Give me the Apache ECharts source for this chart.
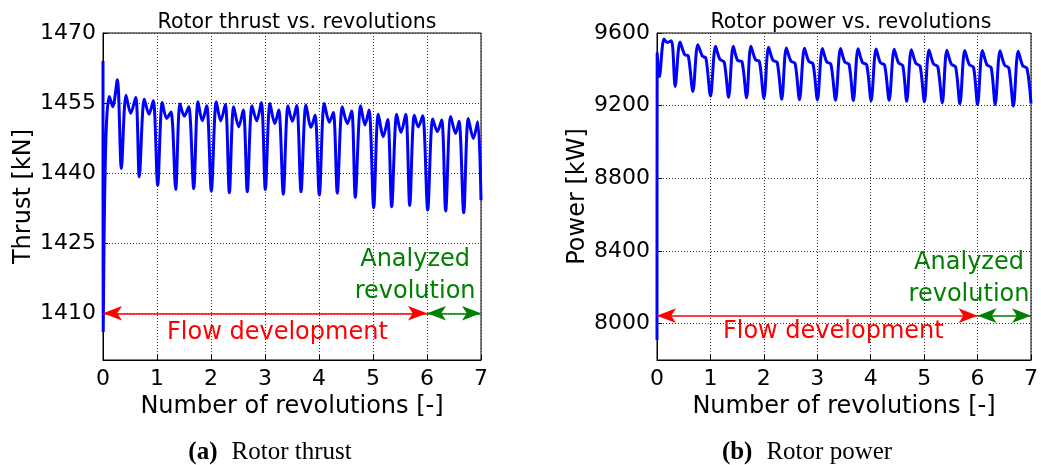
<!DOCTYPE html>
<html><head><meta charset="utf-8">
<script src="https://cdn.jsdelivr.net/npm/echarts@6/dist/echarts.min.js"></script>
<style>html,body{margin:0;padding:0;background:#fff}#c{width:1041px;height:465px}</style>
</head><body><div id="c"></div>
<script>
// ---- data ----
const thrustTicks = [1410, 1425, 1440, 1455, 1470];
const powerTicks = [8000, 8400, 8800, 9200, 9600];
const chartTitles = ['Rotor thrust vs. revolutions', 'Rotor power vs. revolutions'];
const yNames = ['Thrust [kN]', 'Power [kW]'];
const xName = 'Number of revolutions [-]';
const captions = [['(a)', 'Rotor thrust'], ['(b)', 'Rotor power']];
const flowText = 'Flow development';
const analyzedText = 'Analyzed\nrevolution';
const flowRange = [0, 6];
const analyzedRange = [6, 7];

const thrust = [
  [0, 1464], [0.004, 1406], [0.02, 1426], [0.04, 1441], [0.07, 1452],
  [0.117, 1456.4], [0.18, 1454.2], [0.265, 1460.0],
  [0.34, 1441.0],
  [0.426, 1456.7], [0.513, 1452.8], [0.606, 1456.2],
  [0.672, 1439.2],
  [0.765, 1455.8], [0.852, 1452.6], [0.931, 1455.5],
  [1.013, 1437.4],
  [1.098, 1455.1], [1.179, 1451.7], [1.259, 1453.1],
  [1.346, 1436.5],
  [1.426, 1454.8], [1.506, 1452.2], [1.587, 1454.2],
  [1.68, 1436.7],
  [1.759, 1455.3], [1.839, 1451.2], [1.92, 1454.4],
  [2.006, 1436.2],
  [2.099, 1455.3], [2.18, 1451.2], [2.265, 1454.7],
  [2.34, 1435.8],
  [2.42, 1454.2], [2.513, 1449.9], [2.598, 1453.5],
  [2.672, 1436.0],
  [2.759, 1454.4], [2.846, 1451.2], [2.932, 1455.1],
  [3.006, 1436.5],
  [3.093, 1454.9], [3.18, 1450.6], [3.254, 1453.5],
  [3.339, 1435.5],
  [3.426, 1454.4], [3.506, 1451.1], [3.587, 1454.5],
  [3.667, 1436.0],
  [3.759, 1454.6], [3.852, 1449.8], [3.926, 1452.4],
  [4.006, 1435.3],
  [4.098, 1454.9], [4.191, 1450.9], [4.265, 1453.0],
  [4.339, 1435.7],
  [4.432, 1454.2], [4.524, 1450.6], [4.605, 1453.3],
  [4.672, 1434.8],
  [4.772, 1454.4], [4.852, 1450.3], [4.926, 1453.5],
  [5.013, 1432.6],
  [5.098, 1452.6], [5.191, 1447.8], [5.272, 1451.5],
  [5.346, 1432.8],
  [5.439, 1452.6], [5.519, 1448.7], [5.606, 1452.6],
  [5.68, 1433.1],
  [5.765, 1452.4], [5.839, 1449.9], [5.92, 1452.3],
  [6.013, 1432.1],
  [6.106, 1451.6], [6.191, 1448.9], [6.272, 1451.4],
  [6.346, 1431.9],
  [6.439, 1452.1], [6.531, 1448.5], [6.593, 1451.1],
  [6.68, 1431.5],
  [6.765, 1451.7], [6.858, 1447.4], [6.939, 1451.0],
  [7.0, 1434.2]
];

const power = [
  [0, 7910], [0.003, 9490], [0.045, 9360], [0.13, 9567], [0.19, 9548], [0.27, 9558],
  [0.34, 9306],
  [0.43, 9550], [0.518, 9481], [0.585, 9474],
  [0.672, 9278],
  [0.764, 9536], [0.851, 9472], [0.915, 9462],
  [1.002, 9253],
  [1.095, 9527], [1.177, 9455], [1.258, 9440],
  [1.340, 9247],
  [1.427, 9527], [1.506, 9450], [1.591, 9442],
  [1.677, 9244],
  [1.757, 9527], [1.843, 9453], [1.917, 9443],
  [2.002, 9240],
  [2.088, 9522], [2.17, 9450], [2.25, 9438],
  [2.335, 9235],
  [2.42, 9518], [2.505, 9446], [2.585, 9432],
  [2.667, 9233],
  [2.76, 9516], [2.84, 9444], [2.92, 9430],
  [3.003, 9232],
  [3.095, 9515], [3.175, 9442], [3.255, 9428],
  [3.342, 9230],
  [3.435, 9514], [3.515, 9440], [3.595, 9427],
  [3.675, 9228],
  [3.763, 9513], [3.845, 9438], [3.925, 9425],
  [4.008, 9227],
  [4.1, 9512], [4.18, 9437], [4.26, 9423],
  [4.345, 9230],
  [4.44, 9511], [4.52, 9436], [4.6, 9421],
  [4.674, 9224],
  [4.76, 9508], [4.845, 9433], [4.925, 9418],
  [5.005, 9221],
  [5.09, 9506], [5.175, 9430], [5.255, 9415],
  [5.34, 9215],
  [5.425, 9505], [5.51, 9428], [5.59, 9413],
  [5.67, 9210],
  [5.76, 9503], [5.845, 9426], [5.925, 9411],
  [6.0, 9206],
  [6.09, 9503], [6.175, 9425], [6.255, 9410],
  [6.33, 9206],
  [6.42, 9502], [6.505, 9423], [6.585, 9408],
  [6.67, 9197],
  [6.76, 9500], [6.845, 9420], [6.925, 9405],
  [7.0, 9212]
];

// annotation anchors (data coords)
const thrustArrowY = 1410, powerArrowY = 8044;
const thrustFlowPos = [3.23, 1405.9], powerFlowPos = [3.30, 7955];
const thrustAnaPos = [5.78, 1418.0], powerAnaPos = [5.84, 8245];

// ---- chart ----
const FONT = 'DejaVu Sans';
const SERIF = 'Liberation Serif';
const chart = echarts.init(document.getElementById('c'), null, {renderer: 'canvas'});
const grids = [
  {left: 103, right: 560, top: 33, bottom: 105},
  {left: 657, right: 6, top: 33, bottom: 105}
];
const yRanges = [[1400, 1470, thrustTicks], [7800, 9600, powerTicks]];

function xAxis(i) {
  return {
    type: 'value', gridIndex: i, min: 0, max: 7, interval: 1,
    name: xName, nameLocation: 'middle', nameGap: 29,
    nameTextStyle: {fontFamily: FONT, fontSize: 24, color: '#000'},
    axisLine: {show: true, lineStyle: {color: '#000', width: 1}},
    axisTick: {show: true, inside: true, length: 5, lineStyle: {color: '#000'}},
    axisLabel: {fontFamily: FONT, fontSize: 22, color: '#000', margin: 8},
    splitLine: {show: true, lineStyle: {color: '#333', width: 1, type: [1, 2]}}
  };
}
function yAxis(i) {
  const r = yRanges[i];
  return {
    type: 'value', gridIndex: i, min: r[0], max: r[1],
    name: yNames[i], nameLocation: 'middle', nameGap: 52,
    nameTextStyle: {fontFamily: FONT, fontSize: 24, color: '#000'},
    axisLine: {show: true, lineStyle: {color: '#000', width: 1}},
    axisTick: {show: true, inside: true, length: 5, customValues: r[2], lineStyle: {color: '#000'}},
    axisLabel: {fontFamily: FONT, fontSize: 22, color: '#000', margin: 7, customValues: r[2],
      formatter: v => String(v)},
    splitLine: {show: true, lineStyle: {color: '#333', width: 1, type: [1, 2]}}
  };
}
function arrowLines(y) {
  return [
    [{coord: [flowRange[0], y], lineStyle: {color: '#ff0000'}}, {coord: [flowRange[1], y]}],
    [{coord: [analyzedRange[0], y], lineStyle: {color: '#008000'}}, {coord: [analyzedRange[1], y]}]
  ];
}
function textPoints(flowPos, anaPos) {
  return [
    {coord: flowPos, symbolSize: 0, label: {show: true, position: 'inside', formatter: flowText,
      fontFamily: FONT, fontSize: 24, color: '#ff0000'}},
    {coord: anaPos, symbolSize: 0, label: {show: true, position: 'inside', formatter: analyzedText,
      fontFamily: FONT, fontSize: 24, color: '#008000', lineHeight: 32, align: 'center'}}
  ];
}
function lineSeries(i, data, arrowY, flowPos, anaPos) {
  return {
    type: 'line', xAxisIndex: i, yAxisIndex: i, data: data,
    showSymbol: false, smooth: 0.3, clip: true,
    lineStyle: {color: '#0000ff', width: 3},
    itemStyle: {color: '#0000ff'},
    animation: false, silent: true,
    markLine: {
      silent: true, animation: false,
      symbol: ['arrow', 'arrow'], symbolSize: [11, 19],
      label: {show: false},
      lineStyle: {width: 1.5, type: 'solid'},
      data: arrowLines(arrowY)
    },
    markPoint: {
      silent: true, animation: false, symbol: 'circle',
      itemStyle: {color: 'transparent'},
      data: textPoints(flowPos, anaPos)
    }
  };
}
function captionTitle(c, x) {
  return {text: '{b|' + c[0] + '}{s| }' + c[1], left: x, top: 435, textAlign: 'center',
    textStyle: {fontFamily: SERIF, fontSize: 25, fontWeight: 'normal', color: '#000',
      rich: {b: {fontFamily: SERIF, fontSize: 25, fontWeight: 'bold', color: '#000'},
             s: {fontFamily: SERIF, fontSize: 25, width: 14}}}};
}

chart.setOption({
  animation: false,
  backgroundColor: '#fff',
  textStyle: {fontFamily: FONT},
  title: [
    {text: chartTitles[0], left: 292, top: 7, textAlign: 'center',
     textStyle: {fontFamily: FONT, fontSize: 20.5, fontWeight: 'normal', color: '#000'}},
    {text: chartTitles[1], left: 846, top: 7, textAlign: 'center',
     textStyle: {fontFamily: FONT, fontSize: 20.5, fontWeight: 'normal', color: '#000'}},
    captionTitle(captions[0], 265),
    captionTitle(captions[1], 802)
  ],
  grid: grids.map(g => Object.assign({show: true, borderColor: '#000', borderWidth: 1, backgroundColor: '#fff'}, g)),
  xAxis: [xAxis(0), xAxis(1)],
  yAxis: [yAxis(0), yAxis(1)],
  series: [
    lineSeries(0, thrust, thrustArrowY, thrustFlowPos, thrustAnaPos),
    lineSeries(1, power, powerArrowY, powerFlowPos, powerAnaPos)
  ]
});
</script></body></html>
